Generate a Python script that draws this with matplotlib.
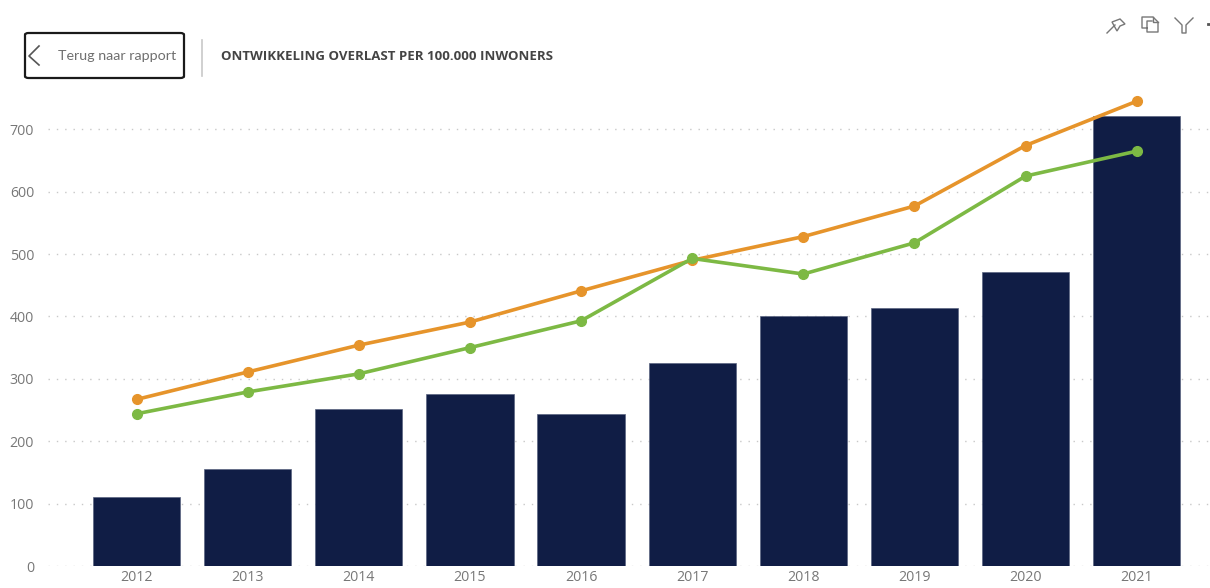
import matplotlib
matplotlib.use('Agg')
import matplotlib.pyplot as plt
from matplotlib.lines import Line2D
from matplotlib.patches import FancyBboxPatch, Polygon

W, H = 1210, 588

years = ['2012', '2013', '2014', '2015', '2016', '2017', '2018', '2019', '2020', '2021']
bars = [111, 156, 252, 276, 244, 326, 400, 413, 472, 722]
orange = [267, 311, 354, 391, 441, 490, 528, 577, 674, 745]
green = [244, 279, 308, 350, 393, 493, 468, 518, 625, 665]
yticks = [0, 100, 200, 300, 400, 500, 600, 700]

plt.rcParams['font.family'] = ['Open Sans', 'DejaVu Sans']

fig = plt.figure(figsize=(W / 100, H / 100), dpi=100, facecolor='white')
ax = fig.add_axes([48 / W, (H - 566) / H, (W - 48) / W, 476 / H])

xpos = list(range(len(years)))
ax.bar(xpos, bars, width=0.785, color='#101D45', edgecolor='#5a6480', linewidth=0.5, zorder=2)
ax.plot(xpos, orange, color='#E6942B', lw=2.6, marker='o', ms=7, zorder=3, clip_on=False)
ax.plot(xpos, green, color='#7DB944', lw=2.6, marker='o', ms=7, zorder=4, clip_on=False)

ax.set_xlim(-0.797, 9.66)
ax.set_ylim(0, 763)
ax.set_xticks(xpos, years)
ax.set_yticks(yticks)
ax.tick_params(length=0, labelsize=10.2, labelcolor='#777777')
ax.tick_params(axis='x', pad=3)
ax.tick_params(axis='y', pad=10)
ax.grid(axis='y', color='#C8C8C8', linestyle=(0, (1, 5)), linewidth=1, zorder=1)
ax.set_axisbelow(True)
for s in ax.spines.values():
    s.set_visible(False)


# overlay in pixel coordinates, y measured from the top
def px(x, y):
    return x / W, 1 - y / H


def line(xs, ys, color='#777777', lw=1.0):
    pts = [px(x, y) for x, y in zip(xs, ys)]
    fig.add_artist(Line2D([p[0] for p in pts], [p[1] for p in pts], color=color, lw=lw,
                          transform=fig.transFigure))


# back button
x0, y0 = px(25, 78)
x1, y1 = px(184, 33)
fig.add_artist(FancyBboxPatch((x0, y0), x1 - x0, y1 - y0, boxstyle='round,pad=0,rounding_size=0.003',
                              transform=fig.transFigure, fc='white', ec='#1a1a1a', lw=1.6))
line([39, 29, 39], [46, 56, 65], color='#555555', lw=1.2)
fig.text(*px(58, 56), 'Terug naar rapport', family=['Lato', 'DejaVu Sans'], fontsize=10.3,
         color='#6f6f6f', va='center', ha='left')
line([202, 202], [40, 76], color='#C8C8C8', lw=1.2)

# title
fig.text(*px(221, 56), 'ONTWIKKELING OVERLAST PER 100.000 INWONERS', family=['Open Sans', 'DejaVu Sans'],
         fontsize=9.5, fontweight='bold', color='#444444', va='center', ha='left')

# header icons
line([1107, 1115], [33, 25])
fig.add_artist(Polygon([px(1112, 22), px(1120, 19), px(1125, 24), px(1120, 26), px(1117, 31)],
                       closed=True, transform=fig.transFigure, fc='white', ec='#777777', lw=1))
line([1147, 1142, 1142, 1153, 1158, 1158, 1147, 1147, 1152], [28, 28, 17, 17, 22, 32, 32, 21, 21])
line([1153, 1153, 1158], [17, 22, 22])
line([1175, 1182, 1182, 1186, 1186, 1193], [18, 25, 33, 33, 25, 18])
line([1208, 1210], [24, 24], color='#555555', lw=2)

fig.savefig('out.png', dpi=100)
